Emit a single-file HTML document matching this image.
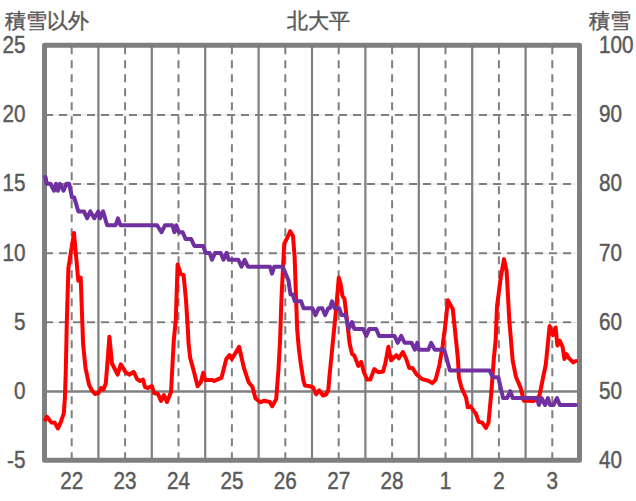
<!DOCTYPE html>
<html><head><meta charset="utf-8">
<style>
html,body{margin:0;padding:0;background:#fff;width:636px;height:501px;overflow:hidden}
svg{display:block}
.t{font-family:"Liberation Sans",sans-serif;font-size:23px;fill:#595959;stroke:#595959;stroke-width:0.45}
.j{font-family:"Liberation Sans",sans-serif;font-size:20.6px;fill:#595959;stroke:#595959;stroke-width:0.45}
.lt{stroke:#dedede;stroke-width:1}
.dh{stroke:#7f7f7f;stroke-width:2;stroke-dasharray:8 6}
.dv{stroke:#7f7f7f;stroke-width:2;stroke-dasharray:8 6;stroke-dashoffset:-0.8}
.sv{stroke:#7f7f7f;stroke-width:2.2}
.zl{stroke:#7f7f7f;stroke-width:2.6}
</style></head><body>
<svg width="636" height="501" viewBox="0 0 636 501">
<rect width="636" height="501" fill="#fff"/>
<line x1="45.0" y1="114.93" x2="579.0" y2="114.93" class="lt"/>
<line x1="45.0" y1="114.93" x2="579.0" y2="114.93" class="dh"/>
<line x1="45.0" y1="184.07" x2="579.0" y2="184.07" class="lt"/>
<line x1="45.0" y1="184.07" x2="579.0" y2="184.07" class="dh"/>
<line x1="45.0" y1="253.20" x2="579.0" y2="253.20" class="lt"/>
<line x1="45.0" y1="253.20" x2="579.0" y2="253.20" class="dh"/>
<line x1="45.0" y1="322.33" x2="579.0" y2="322.33" class="lt"/>
<line x1="45.0" y1="322.33" x2="579.0" y2="322.33" class="dh"/>
<line x1="71.70" y1="45.5" x2="71.70" y2="460.3" class="dv"/>
<line x1="98.40" y1="45.5" x2="98.40" y2="460.3" class="sv"/>
<line x1="125.10" y1="45.5" x2="125.10" y2="460.3" class="dv"/>
<line x1="151.80" y1="45.5" x2="151.80" y2="460.3" class="sv"/>
<line x1="178.50" y1="45.5" x2="178.50" y2="460.3" class="dv"/>
<line x1="205.20" y1="45.5" x2="205.20" y2="460.3" class="sv"/>
<line x1="231.90" y1="45.5" x2="231.90" y2="460.3" class="dv"/>
<line x1="258.60" y1="45.5" x2="258.60" y2="460.3" class="sv"/>
<line x1="285.30" y1="45.5" x2="285.30" y2="460.3" class="dv"/>
<line x1="312.00" y1="45.5" x2="312.00" y2="460.3" class="sv"/>
<line x1="338.70" y1="45.5" x2="338.70" y2="460.3" class="dv"/>
<line x1="365.40" y1="45.5" x2="365.40" y2="460.3" class="sv"/>
<line x1="392.10" y1="45.5" x2="392.10" y2="460.3" class="dv"/>
<line x1="418.80" y1="45.5" x2="418.80" y2="460.3" class="sv"/>
<line x1="445.50" y1="45.5" x2="445.50" y2="460.3" class="dv"/>
<line x1="472.20" y1="45.5" x2="472.20" y2="460.3" class="sv"/>
<line x1="498.90" y1="45.5" x2="498.90" y2="460.3" class="dv"/>
<line x1="525.60" y1="45.5" x2="525.60" y2="460.3" class="sv"/>
<line x1="552.30" y1="45.5" x2="552.30" y2="460.3" class="dv"/>
<line x1="45.0" y1="391.47" x2="579.0" y2="391.47" class="zl"/>
<rect x="44.5" y="45.3" width="535" height="415" fill="none" stroke="#7f7f7f" stroke-width="5" stroke-linejoin="round"/>
<polyline points="45.3,419.6 47.0,416.8 51.2,422.4 54.7,422.8 57.9,428.4 61.0,421.7 63.8,413.3 64.9,398.0 65.8,370.0 66.8,322.2 68.4,268.0 74.0,233.0 78.3,280.7 80.7,277.5 83.1,344.0 85.5,368.0 89.0,384.6 92.0,390.5 95.0,394.0 98.6,393.0 101.0,388.0 103.4,389.4 105.8,383.4 107.5,362.0 109.4,336.8 112.0,363.5 117.6,374.7 120.8,364.3 125.6,372.3 129.6,374.7 133.5,371.9 134.0,372.4 137.0,379.0 140.0,381.0 143.0,379.6 145.0,387.0 148.0,388.0 152.0,386.0 154.0,393.0 158.0,394.0 161.0,401.0 164.0,395.0 167.0,402.0 171.0,392.0 172.2,370.0 173.8,340.0 175.8,320.0 177.6,264.4 180.8,274.0 183.6,275.2 186.0,300.0 187.9,330.0 188.5,343.0 190.2,358.0 194.0,372.0 197.6,386.3 200.8,382.3 203.2,372.7 205.2,379.9 212.0,379.9 214.3,381.0 218.3,379.1 221.5,377.8 226.3,359.1 229.5,355.1 231.9,359.1 239.1,346.8 243.9,367.9 248.7,382.3 252.5,387.1 255.4,398.3 260.2,402.3 264.2,400.7 269.8,402.0 272.2,406.3 276.2,399.1 278.5,368.8 280.1,340.0 281.4,300.0 284.2,244.0 286.6,239.2 290.2,231.2 293.0,236.0 294.6,256.7 297.2,330.0 298.9,349.0 300.8,364.0 303.4,380.5 304.9,385.5 309.7,386.3 312.9,387.1 316.1,394.3 319.3,390.3 323.0,395.5 326.0,394.5 328.3,390.0 329.3,378.0 336.0,310.0 338.8,277.5 340.5,283.0 342.5,296.0 344.5,299.0 347.2,322.0 349.6,343.5 352.0,353.9 354.3,355.5 358.3,365.9 361.2,361.9 363.9,372.3 367.1,379.5 370.3,379.5 374.3,369.1 378.3,372.3 383.1,371.5 385.5,362.7 388.4,346.7 391.1,360.3 396.4,355.1 398.8,358.3 402.8,352.0 406.0,358.3 409.2,367.9 412.4,367.9 416.4,374.3 422.0,379.1 428.3,380.7 432.3,383.1 435.5,379.9 439.5,364.7 442.7,345.6 445.9,320.0 447.9,300.3 452.8,309.3 456.0,340.0 458.0,359.7 458.9,377.7 461.5,387.6 466.0,397.5 467.8,407.3 470.5,406.4 475.9,413.6 478.6,421.7 482.2,422.6 485.8,428.0 488.5,422.6 491.2,393.9 493.9,358.0 495.7,340.0 497.0,306.0 501.0,276.0 504.0,259.1 506.6,271.0 509.3,320.0 512.7,360.8 515.9,376.7 520.7,387.9 523.9,400.7 533.5,401.0 536.7,399.1 539.6,395.1 542.4,381.0 545.8,364.5 549.6,326.1 552.8,335.1 555.6,327.5 557.4,345.6 559.8,340.7 562.6,347.0 564.4,358.9 566.4,354.0 568.9,358.2 573.1,362.4 575.9,361.0" fill="none" stroke="#ff0000" stroke-width="4" stroke-linejoin="round" stroke-linecap="round"/>
<polyline points="45.5,176.9 46.7,183.8 50.4,183.8 54.1,190.7 56.0,183.8 57.9,190.7 60.0,183.8 63.5,190.7 66.4,183.8 69.2,183.8 72.0,197.6 74.3,197.6 78.3,211.4 84.0,211.4 87.1,218.3 90.3,211.4 94.3,218.3 98.3,211.4 99.9,218.3 103.1,211.4 107.1,225.2 115.6,225.2 118.0,218.3 120.4,225.2 157.1,225.2 161.4,232.2 165.1,225.2 172.3,225.2 174.4,232.2 176.3,225.2 178.7,232.2 182.7,232.2 185.6,239.1 191.2,239.1 194.4,246.0 203.2,246.0 205.6,252.9 209.6,252.9 212.0,259.8 215.1,252.9 220.7,252.9 223.5,259.8 226.6,252.9 228.7,259.8 238.3,259.8 241.5,266.7 244.7,259.8 247.9,266.7 270.0,266.7 272.0,273.6 274.3,266.7 282.7,266.7 288.5,280.6 290.5,294.4 292.7,294.4 294.8,301.3 301.1,301.3 303.5,308.2 312.3,308.2 315.5,315.1 318.7,308.2 322.2,308.2 325.1,315.1 328.3,308.2 329.9,308.2 332.0,301.3 334.7,308.2 339.2,308.2 341.6,315.1 345.6,315.1 348.8,328.9 352.0,322.0 354.3,328.9 363.1,328.9 366.3,335.9 369.2,328.9 376.2,328.9 379.1,335.9 394.5,335.9 397.7,342.8 401.2,335.9 404.7,342.8 411.6,342.8 414.8,349.7 417.2,342.8 418.8,349.7 428.3,349.7 431.2,342.8 434.7,349.7 444.3,349.7 449.9,370.4 489.6,370.4 492.7,377.3 498.3,377.3 503.1,398.1 507.1,398.1 510.3,391.2 512.7,398.1 536.8,398.1 538.9,405.0 541.7,398.1 545.1,405.0 547.9,398.1 550.0,405.0 553.5,405.0 557.0,398.1 559.8,405.0 575.9,405.0" fill="none" stroke="#7030a0" stroke-width="4" stroke-linejoin="round" stroke-linecap="round"/>
<text transform="translate(25.5 53.1) scale(0.9 1)" text-anchor="end" class="t">25</text>
<text transform="translate(25.5 122.2) scale(0.9 1)" text-anchor="end" class="t">20</text>
<text transform="translate(25.5 191.4) scale(0.9 1)" text-anchor="end" class="t">15</text>
<text transform="translate(25.5 260.5) scale(0.9 1)" text-anchor="end" class="t">10</text>
<text transform="translate(25.5 329.6) scale(0.9 1)" text-anchor="end" class="t">5</text>
<text transform="translate(25.5 398.8) scale(0.9 1)" text-anchor="end" class="t">0</text>
<text transform="translate(25.5 467.9) scale(0.9 1)" text-anchor="end" class="t">-5</text>
<text transform="translate(599 53.1) scale(0.9 1)" class="t">100</text>
<text transform="translate(599 122.2) scale(0.9 1)" class="t">90</text>
<text transform="translate(599 191.4) scale(0.9 1)" class="t">80</text>
<text transform="translate(599 260.5) scale(0.9 1)" class="t">70</text>
<text transform="translate(599 329.6) scale(0.9 1)" class="t">60</text>
<text transform="translate(599 398.8) scale(0.9 1)" class="t">50</text>
<text transform="translate(599 467.9) scale(0.9 1)" class="t">40</text>
<text transform="translate(71.70 488.5) scale(0.9 1)" text-anchor="middle" class="t">22</text>
<text transform="translate(125.10 488.5) scale(0.9 1)" text-anchor="middle" class="t">23</text>
<text transform="translate(178.50 488.5) scale(0.9 1)" text-anchor="middle" class="t">24</text>
<text transform="translate(231.90 488.5) scale(0.9 1)" text-anchor="middle" class="t">25</text>
<text transform="translate(285.30 488.5) scale(0.9 1)" text-anchor="middle" class="t">26</text>
<text transform="translate(338.70 488.5) scale(0.9 1)" text-anchor="middle" class="t">27</text>
<text transform="translate(392.10 488.5) scale(0.9 1)" text-anchor="middle" class="t">28</text>
<text transform="translate(445.50 488.5) scale(0.9 1)" text-anchor="middle" class="t">1</text>
<text transform="translate(498.90 488.5) scale(0.9 1)" text-anchor="middle" class="t">2</text>
<text transform="translate(552.30 488.5) scale(0.9 1)" text-anchor="middle" class="t">3</text>
<text x="5" y="27.6" class="j">積雪以外</text>
<text x="318" y="27.6" text-anchor="middle" class="j">北大平</text>
<text x="589" y="27.6" class="j">積雪</text>
</svg>
</body></html>
